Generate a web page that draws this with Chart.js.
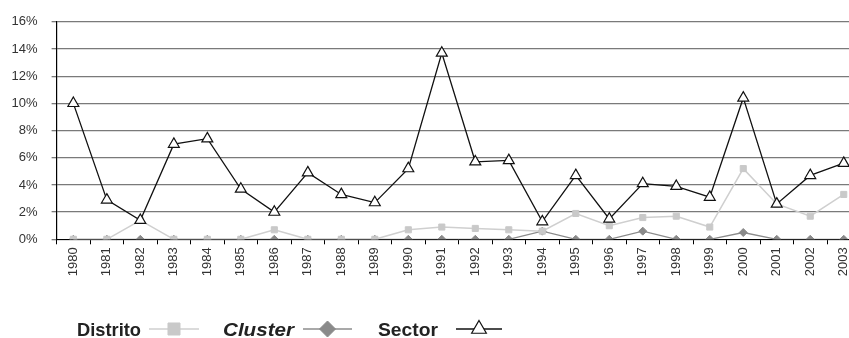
<!DOCTYPE html>
<html>
<head>
<meta charset="utf-8">
<script src="https://cdn.jsdelivr.net/npm/chart.js@4/dist/chart.umd.min.js"></script>
<style>
  html, body { margin: 0; padding: 0; background: #fff; overflow: hidden; }
  #wrap { width: 868px; height: 338px; }
</style>
</head>
<body>
<div id="wrap"><canvas id="c" width="868" height="338"></canvas></div>
<script>
// Annual growth rates (%), 1980-2003
const years = ['1980','1981','1982','1983','1984','1985','1986','1987','1988','1989','1990','1991',
               '1992','1993','1994','1995','1996','1997','1998','1999','2000','2001','2002','2003'];
const distrito = [0, 0, 1.4, 0, 0, 0, 0.7, 0, 0, 0, 0.7, 0.9, 0.8, 0.7, 0.6, 1.9, 1.0, 1.6, 1.7, 0.9, 5.2, 2.6, 1.7, 3.3];
const cluster  = [0, 0, 0, 0, 0, 0, 0, 0, 0, 0, 0, 0, 0, 0, 0.6, 0, 0, 0.6, 0, 0, 0.5, 0, 0, 0];
const sector   = [10.0, 2.9, 1.4, 7.0, 7.4, 3.7, 2.0, 4.9, 3.3, 2.7, 5.2, 13.7, 5.7, 5.8, 1.3, 4.7, 1.5, 4.1, 3.9, 3.1, 10.4, 2.6, 4.7, 5.6];
const yTicks = [0, 2, 4, 6, 8, 10, 12, 14, 16];
const seriesNames = ['Distrito', 'Cluster', 'Sector'];

const axisFont = { family: "'Liberation Sans', Arial, sans-serif", size: 13 };

// Legend drawn below the plot: name first, then a line sample with its marker
const legendAfter = {
  id: 'legendAfter',
  afterDraw(chart) {
    const ctx = chart.ctx;
    const baseY = 336;
    const lineY = 329;
    const items = [
      { font: "bold 18px 'Liberation Sans', Arial, sans-serif", textX: 77, textW: 64, lineX: 149, lineW: 50, radius: 8.5, style: 'rect' },
      { font: "italic bold 18px 'Liberation Sans', Arial, sans-serif", textX: 223, textW: 71, lineX: 303, lineW: 49, radius: 8, style: 'rectRot' },
      { font: "bold 18px 'Liberation Sans', Arial, sans-serif", textX: 378, textW: 60, lineX: 456, lineW: 46, radius: 8.5, style: 'triangle' }
    ];
    ctx.save();
    items.forEach((s, i) => {
      const d = chart.data.datasets[i];
      ctx.font = s.font;
      ctx.fillStyle = '#222';
      ctx.textAlign = 'left';
      ctx.textBaseline = 'alphabetic';
      const w = ctx.measureText(seriesNames[i]).width;
      ctx.save();
      ctx.translate(s.textX, baseY);
      ctx.scale(s.textW / w, 1);
      ctx.fillText(seriesNames[i], 0, 0);
      ctx.restore();
      ctx.strokeStyle = d.borderColor;
      ctx.lineWidth = 1.5;
      ctx.beginPath();
      ctx.moveTo(s.lineX, lineY);
      ctx.lineTo(s.lineX + s.lineW, lineY);
      ctx.stroke();
      ctx.fillStyle = d.pointBackgroundColor;
      ctx.strokeStyle = d.pointBorderColor;
      ctx.lineWidth = d.pointBorderWidth;
      Chart.helpers.drawPoint(ctx, { pointStyle: s.style, radius: s.radius, rotation: 0, borderWidth: d.pointBorderWidth },
        s.lineX + s.lineW / 2, lineY);
    });
    ctx.restore();
  }
};

new Chart(document.getElementById('c'), {
  type: 'line',
  data: {
    labels: years,
    datasets: [
      {
        label: seriesNames[0], data: distrito, order: 1,
        borderColor: '#cfcfcf', borderWidth: 1.5,
        pointStyle: 'rect', pointRadius: 4.3,
        pointBackgroundColor: '#c9c9c9', pointBorderColor: '#c9c9c9', pointBorderWidth: 1
      },
      {
        label: seriesNames[1], data: cluster, order: 2,
        borderColor: '#8c8c8c', borderWidth: 1.3,
        pointStyle: 'rectRot', pointRadius: 4,
        pointBackgroundColor: '#8a8a8a', pointBorderColor: '#8a8a8a', pointBorderWidth: 1
      },
      {
        label: seriesNames[2], data: sector, order: 0,
        borderColor: '#111', borderWidth: 1.3,
        pointStyle: 'triangle', pointRadius: 6.3,
        pointBackgroundColor: '#fff', pointBorderColor: '#111', pointBorderWidth: 1.2
      }
    ]
  },
  options: {
    responsive: false,
    animation: false,
    events: [],
    layout: { padding: { left: 0, right: 0, top: 20, bottom: 0 } },
    plugins: { legend: { display: false }, tooltip: { enabled: false } },
    elements: { line: { tension: 0 } },
    scales: {
      x: {
        type: 'category',
        offset: true,
        afterFit(scale) { scale.height = 98.7; },
        border: { display: true, color: '#000', width: 1 },
        grid: { offset: true, drawOnChartArea: false, drawTicks: true, tickLength: 5, color: '#000', lineWidth: 1 },
        ticks: {
          autoSkip: false, minRotation: 90, maxRotation: 90, padding: 3,
          color: '#333', font: axisFont
        }
      },
      y: {
        min: 0, max: 16,
        afterFit(scale) { scale.width = 56.6; },
        afterBuildTicks(scale) { scale.ticks = yTicks.map(v => ({ value: v })); },
        border: { display: true, color: '#000', width: 1.2 },
        grid: { color: '#7a7a7a', lineWidth: 1.3, tickLength: 5, drawTicks: true },
        ticks: {
          padding: 14, color: '#333', font: axisFont,
          callback: v => v + '%'
        }
      }
    }
  },
  plugins: [legendAfter]
});
</script>
</body>
</html>
